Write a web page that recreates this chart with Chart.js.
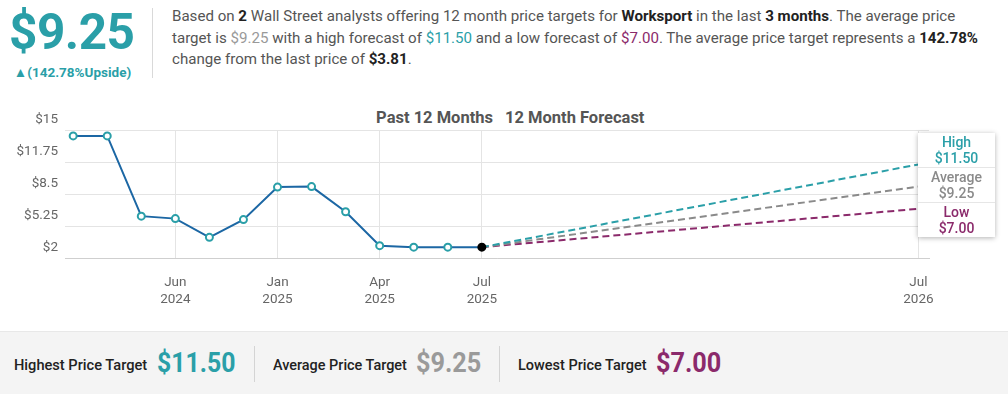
<!DOCTYPE html>
<html>
<head>
<meta charset="utf-8">
<script src="https://cdn.jsdelivr.net/npm/chart.js@4/dist/chart.umd.min.js"></script>
<style>
  body { margin: 0; width: 1008px; height: 394px; background: #fff; font-family: Roboto, "Noto Sans", sans-serif; position: relative; overflow: hidden; }
  .big { position: absolute; left: 9px; top: 3px; font-size: 49.5px; font-weight: 700; color: #2a9fa8; letter-spacing: -0.5px; }
  .upside { position: absolute; left: 0; width: 145px; top: 64px; text-align: center; font-size: 13.5px; font-weight: 700; color: #2a9fa8; }
  .sep { position: absolute; left: 152px; top: 8px; width: 1px; height: 70px; background: #d9d9d9; }
  .para { position: absolute; left: 172px; top: 6px; font-size: 15.1px; line-height: 21.5px; color: #555; white-space: nowrap; }
  .para b { color: #222; }
  .chartTitle { position: absolute; top: 108px; font-size: 16.5px; font-weight: 700; color: #555; }
  #wrap { position: absolute; left: 0; top: 100px; width: 1008px; height: 215px; }
  #box { position: absolute; left: 918px; top: 133px; width: 77px; background: #fff; box-shadow: 0 1px 5px rgba(0,0,0,0.3); }
  #box div { text-align: center; font-size: 14px; font-weight: 500; line-height: 16px; padding: 1px 0; border-top: 1px solid #e6e6e6; }
  #box div:first-child { border-top: none; }
  .band { position: absolute; left: 0; top: 331px; width: 1008px; height: 63px; background: #f4f4f4; border-top: 1px solid #e8e8e8; }
  .lab, .val { position: absolute; white-space: nowrap; transform-origin: left center; }
  .lab { top: 24px; font-size: 15.5px; font-weight: 500; color: #222; }
  .val { top: 14px; font-size: 28px; font-weight: 700; }
  .vsep { position: absolute; top: 14px; width: 1px; height: 36px; background: #d4d4d4; }
</style>
</head>
<body>

<div class="big">$9.25</div>
<div class="upside">▲(142.78%Upside)</div>
<div class="sep"></div>
<div class="para">
  Based on <b>2</b> Wall Street analysts offering 12 month price targets for <b>Worksport</b> in the last <b>3 months</b>. The average price<br>
  target is <span style="color:#999">$9.25</span> with a high forecast of <span style="color:#2a9fa8">$11.50</span> and a low forecast of <span style="color:#8b2a6b">$7.00</span>. The average price target represents a <b>142.78%</b><br>
  change from the last price of <b>$3.81</b>.
</div>

<div class="chartTitle" style="right:515px">Past 12 Months</div>
<div class="chartTitle" style="left:505px">12 Month Forecast</div>

<div id="wrap"><canvas id="priceChart" width="1008" height="215"></canvas></div>
<div id="box"></div>

<div class="band">
  <span class="lab" data-w="133" style="left:14px">Highest Price Target</span>
  <span class="val" data-w="78" style="left:157px;color:#2a9fa8">$11.50</span>
  <div class="vsep" style="left:254px"></div>
  <span class="lab" data-w="134" style="left:273px">Average Price Target</span>
  <span class="val" data-w="65" style="left:416px;color:#9a9a9a">$9.25</span>
  <div class="vsep" style="left:499px"></div>
  <span class="lab" data-w="129" style="left:518px">Lowest Price Target</span>
  <span class="val" data-w="65" style="left:656px;color:#8b2a6b">$7.00</span>
</div>

<script>
// past prices, one point per step on the x axis
const pastX = [0, 1, 2, 3, 4, 5, 6, 7, 8, 9, 10, 11, 12]
const pastPrices = [14.4, 14.4, 6.25, 6.0, 4.1, 5.9, 9.2, 9.25, 6.7, 3.25, 3.1, 3.1, 3.1]

// forecast targets at Jul 2026
const forecastEndX = 24.82
const forecastNames = ["High", "Average", "Low"]
const forecastValues = [11.5, 9.25, 7.0]
const forecastColors = ["#2a9fa8", "#8a8a8a", "#8b2a6b"]

// axis ticks
const xTickPos = [3, 6, 9, 12, 24.82]
const xTickLabels = [["Jun", "2024"], ["Jan", "2025"], ["Apr", "2025"], ["Jul", "2025"], ["Jul", "2026"]]
const yTicks = [2, 5.25, 8.5, 11.75, 15]

const lastIdx = pastPrices.length - 1

// squeeze the bottom band text to the narrow look of the original
document.querySelectorAll('.band [data-w]').forEach(el => {
  const k = Number(el.dataset.w) / el.offsetWidth
  el.style.transform = `scaleX(${k})`
})

const datasets = [{
  data: pastX.map((x, i) => ({ x: x, y: pastPrices[i] })),
  borderColor: '#1c67a4',
  borderWidth: 2,
  tension: 0,
  pointRadius: 3.5,
  pointBorderWidth: 2,
  pointBackgroundColor: pastPrices.map((v, i) => i === lastIdx ? '#000' : '#fff'),
  pointBorderColor: pastPrices.map((v, i) => i === lastIdx ? '#000' : '#2a9fa8')
}]

forecastValues.forEach((v, i) => {
  datasets.push({
    data: [{ x: pastX[lastIdx], y: pastPrices[lastIdx] }, { x: forecastEndX, y: v }],
    borderColor: forecastColors[i],
    borderWidth: 2,
    borderDash: [7, 4],
    pointRadius: 0
  })
})

// the label box on the right
let boxHtml = ``
forecastNames.forEach((name, i) => {
  boxHtml += `<div style="color:${forecastColors[i]}">${name}<br>$${forecastValues[i].toFixed(2)}</div>`
})
document.getElementById('box').innerHTML = boxHtml

const ctx = document.getElementById('priceChart').getContext('2d')

new Chart(ctx, {
  type: 'line',
  data: { datasets: datasets },
  options: {
    responsive: false,
    animation: false,
    layout: { padding: { top: 30, right: 79, left: 0, bottom: 0 } },
    plugins: {
      legend: { display: false },
      tooltip: { enabled: false },
      title: { display: false }
    },
    scales: {
      x: {
        type: 'linear',
        min: -0.24,
        max: 25.13,
        afterBuildTicks: (scale) => { scale.ticks = xTickPos.map(v => ({ value: v })) },
        afterFit: (scale) => { scale.height = 57 },
        grid: { color: '#e4e4e4', drawTicks: false },
        border: { color: '#cfcfcf' },
        ticks: {
          autoSkip: false,
          maxRotation: 0,
          padding: 17,
          color: '#666',
          font: { size: 13.5, family: 'Roboto' },
          callback: (value, index) => xTickLabels[index]
        }
      },
      y: {
        min: 2,
        max: 15,
        afterBuildTicks: (scale) => { scale.ticks = yTicks.map(v => ({ value: v })) },
        afterFit: (scale) => { scale.width = 65 },
        grid: { color: '#e4e4e4', drawTicks: false },
        border: { display: false },
        ticks: {
          padding: 7,
          labelOffset: -10,
          color: '#666',
          font: { size: 13.5, family: 'Roboto' },
          callback: (value) => '$' + value
        }
      }
    }
  }
})
</script>
</body>
</html>
